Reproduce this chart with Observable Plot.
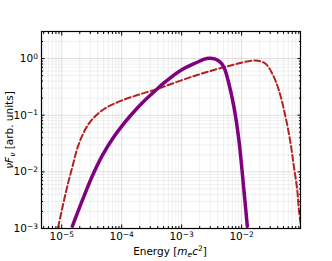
<!DOCTYPE html>
<html><head><meta charset="utf-8">
<script src="https://cdn.jsdelivr.net/npm/d3@7"></script>
<script src="https://cdn.jsdelivr.net/npm/@observablehq/plot@0.6"></script>
<style>
body{margin:0;background:#fff}
svg{font-family:"DejaVu Sans",sans-serif}
</style>
</head><body><div id="chart"></div>
<script>
// Solid purple spectrum (log10 energy, log10 flux)
const purpleLogE = [-4.822,-4.655,-4.488,-4.322,-4.155,-3.988,-3.822,-3.655,-3.433,-3.295,-3.017,-2.738,-2.62,-2.545,-2.45,-2.37,-2.295,-2.212,-2.128,-2.045,-1.962,-1.905];
const purpleLogF = [-2.96,-2.50,-2.07,-1.71,-1.42,-1.18,-0.97,-0.78,-0.561,-0.43,-0.21,-0.065,-0.01,0.005,-0.005,-0.05,-0.153,-0.444,-0.854,-1.44,-2.316,-2.96];
// Dashed red spectrum
const redLogE = [-5.06,-4.933,-4.822,-4.712,-4.545,-4.322,-3.988,-3.42,-2.738,-2.183,-1.767,-1.6,-1.488,-1.378,-1.267,-1.183,-1.128,-1.072,-1.045,-1.0];
const redLogF = [-2.98,-2.37,-1.91,-1.5,-1.146,-0.912,-0.737,-0.54,-0.29,-0.123,-0.035,-0.093,-0.268,-0.561,-1.03,-1.496,-1.907,-2.316,-2.667,-3.02];

const xMajor = [1e-5,1e-4,1e-3,1e-2];
const xMajorLabels = ["10^−5","10^−4","10^−3","10^−2"];
const yMajor = [1e-3,1e-2,1e-1,1e0];
const yMajorLabels = ["10^−3","10^−2","10^−1","10^0"];
const xDomain = [4.6e-6, 0.096];
const yDomain = [1e-3, 3];

const purple = purpleLogE.map((e,i)=>({E:10**e, F:10**purpleLogF[i]}));
const red = redLogE.map((e,i)=>({E:10**e, F:10**redLogF[i]}));

function minors(dom){
  const out=[];
  for(let d=Math.floor(Math.log10(dom[0]));d<=Math.ceil(Math.log10(dom[1]));d++)
    for(let m=1;m<=9;m++){const v=m*10**d; if(v>=dom[0]&&v<=dom[1]) out.push(v);}
  return out;
}
const xMinor = minors(xDomain).filter(v=>!xMajor.includes(v));
const yMinor = minors(yDomain).filter(v=>!yMajor.includes(v));
const xLab = new Map(xMajor.map((v,i)=>[v,xMajorLabels[i]]));
const yLab = new Map(yMajor.map((v,i)=>[v,yMajorLabels[i]]));

const plot = Plot.plot({
  width: 332, height: 261,
  marginLeft: 41, marginRight: 32, marginTop: 31, marginBottom: 33,
  style: {fontFamily: "DejaVu Sans", fontSize: "10.5px", color: "#000", background: "#fff"},
  x: {type: "log", domain: xDomain},
  y: {type: "log", domain: yDomain},
  marks: [
    Plot.gridX(xMinor, {stroke: "#000", strokeOpacity: 0.06}),
    Plot.gridY(yMinor, {stroke: "#000", strokeOpacity: 0.06}),
    Plot.gridX(xMajor, {stroke: "#000", strokeOpacity: 0.12}),
    Plot.gridY(yMajor, {stroke: "#000", strokeOpacity: 0.12}),
    Plot.line(red, {x: "E", y: "F", stroke: "#b22222", strokeWidth: 2, strokeDasharray: "6,3", curve: "catmull-rom", clip: true}),
    Plot.line(purple, {x: "E", y: "F", stroke: "#800080", strokeWidth: 3.5, curve: "catmull-rom", clip: true}),
    Plot.axisX(xMajor, {anchor: "bottom", tickSize: -3.5, tickPadding: 8, tickFormat: d=>xLab.get(d), label: null, fontSize: 10.5}),
    Plot.axisX(xMinor, {anchor: "bottom", tickSize: -2, tickFormat: ()=>"", label: null}),
    Plot.axisX(xMajor, {anchor: "top", tickSize: -3.5, tickFormat: ()=>"", label: null}),
    Plot.axisX(xMinor, {anchor: "top", tickSize: -2, tickFormat: ()=>"", label: null}),
    Plot.axisY(yMajor, {anchor: "left", tickSize: -3.5, tickPadding: 7, tickFormat: d=>yLab.get(d), label: null, fontSize: 10.5}),
    Plot.axisY(yMinor, {anchor: "left", tickSize: -2, tickFormat: ()=>"", label: null}),
    Plot.axisY(yMajor, {anchor: "right", tickSize: -3.5, tickFormat: ()=>"", label: null}),
    Plot.axisY(yMinor, {anchor: "right", tickSize: -2, tickFormat: ()=>"", label: null}),
    Plot.frame({stroke: "#000", strokeWidth: 1.2})
  ]
});
document.getElementById("chart").append(plot);

const svg = d3.select(plot);
// rewrite "10^e" tick labels with a real superscript
svg.selectAll("text").each(function(){
  const t = d3.select(this);
  const s = t.text();
  if (!s.includes("^")) return;
  const [base, exp] = s.split("^");
  t.text("");
  t.append("tspan").text(base);
  t.append("tspan").attr("font-size", 7.5).attr("dy", "-0.45em").text(exp);
});
// x label
const xl = svg.append("text").attr("x", 170).attr("y", 255).attr("text-anchor","middle").attr("font-size",10.5).attr("fill","#000");
xl.append("tspan").text("Energy [");
xl.append("tspan").attr("font-style","italic").text("m");
xl.append("tspan").attr("font-style","italic").attr("font-size",7.5).attr("dy",2).text("e");
xl.append("tspan").attr("font-style","italic").attr("dy",-2).text("c");
xl.append("tspan").attr("font-size",7.5).attr("dy",-4).text("2");
xl.append("tspan").attr("dy",4).text("]");
// y label
const yl = svg.append("text").attr("transform","translate(13,130) rotate(-90)").attr("text-anchor","middle").attr("font-size",10.5).attr("fill","#000");
yl.append("tspan").attr("font-style","italic").text("νF");
yl.append("tspan").attr("font-style","italic").attr("font-size",7.5).attr("dy",2).text("ν");
yl.append("tspan").attr("dy",-2).text(" [arb. units]");
</script>
</body></html>
